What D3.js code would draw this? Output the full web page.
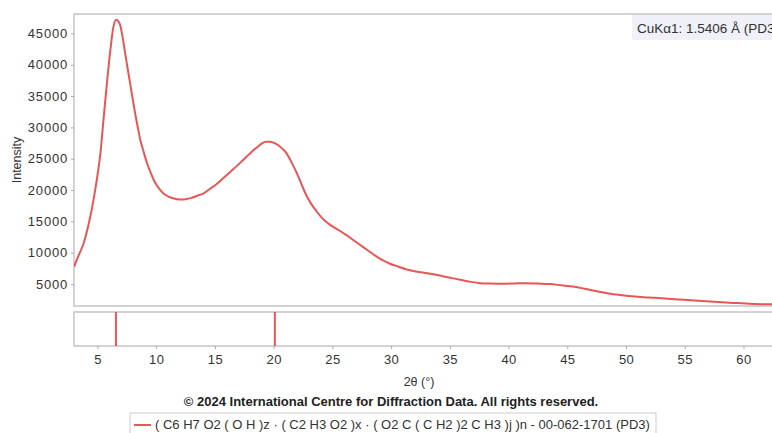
<!DOCTYPE html>
<html><head><meta charset="utf-8">
<script src="https://cdn.jsdelivr.net/npm/d3@7"></script>
<style>
body{margin:0;background:#fff;overflow:hidden}
svg{display:block;font-family:"Liberation Sans",Arial,sans-serif}
</style></head>
<body><svg id="c" width="772" height="433"></svg>
<script>
const twoTheta = [3.0,3.4,3.8,4.2,4.5,4.8,5.0,5.25,5.5,5.8,6.1,6.35,6.6,6.75,6.95,7.15,7.35,7.55,7.8,8.0,8.2,8.4,8.65,8.9,9.2,9.5,9.9,10.3,10.6,11.0,11.5,12.0,12.5,13.0,13.5,14.0,14.5,15.2,15.7,16.3,16.9,17.4,17.9,18.3,18.7,19.0,19.4,19.7,20.0,20.4,20.8,21.1,21.5,22.0,22.4,22.8,23.2,23.7,24.2,24.6,25.1,25.6,26.2,26.8,27.4,28.0,28.8,29.4,29.9,30.6,31.3,32.0,32.8,33.6,34.4,35.2,36.0,36.8,37.6,38.5,39.5,40.5,41.5,42.5,43.5,44.5,45.5,46.5,47.5,48.5,49.5,50.5,51.5,52.5,53.5,54.5,55.5,56.5,57.5,58.5,59.5,60.5,61.5,62.4,63.5];
const intensity = [7760,9600,11400,14200,16800,20000,22400,25900,31000,37000,42400,46000,47200,47000,46200,44300,41900,39600,36800,34500,32300,30300,28000,26300,24400,22900,21200,20100,19500,19000,18650,18500,18550,18750,19100,19450,20100,21050,21900,22900,23900,24800,25700,26400,27000,27450,27700,27700,27550,27150,26500,25850,24500,22600,20800,19100,17800,16500,15400,14750,14100,13550,12800,12000,11200,10400,9350,8700,8250,7800,7350,7050,6800,6550,6250,5950,5650,5350,5150,5080,5050,5100,5150,5080,5000,4800,4600,4250,3850,3500,3250,3050,2900,2800,2650,2530,2430,2300,2170,2060,1960,1860,1790,1760,1740];
const stickPositions = [6.57, 20.1];
const yTicks = [5000,10000,15000,20000,25000,30000,35000,40000,45000];
const xTicks = [5,10,15,20,25,30,35,40,45,50,55,60];
const xDomain = [3, 63.5];
const yDomain = [1500, 48100];
const xTitle = "2θ (°)";
const yTitle = "Intensity";
const wavelengthLabel = "CuKα1: 1.5406 Å (PD3)";
const copyright = "© 2024 International Centre for Diffraction Data. All rights reserved.";
const legendLabel = "( C6 H7 O2 ( O H )z · ( C2 H3 O2 )x · ( O2 C ( C H2 )2 C H3 )j )n - 00-062-1701 (PD3)";

const RED = "#e85656", FRAME = "#c4c4c4", TXT = "#333";
const svg = d3.select("#c");
const L = 74, R = 74 + 60.5*11.745, T = 14, B = 306, ST = 312, SB = 346;
const x = d3.scaleLinear().domain(xDomain).range([L, R]);
const y = d3.scaleLinear().domain(yDomain).range([B, T]);

// frames
svg.append("rect").attr("x",L).attr("y",T).attr("width",R-L).attr("height",B-T)
  .attr("fill","none").attr("stroke",FRAME).attr("stroke-width",1.5);
svg.append("rect").attr("x",L).attr("y",ST).attr("width",R-L).attr("height",SB-ST)
  .attr("fill","none").attr("stroke",FRAME).attr("stroke-width",1.5);

// y axis
const yAx = svg.append("g").attr("transform",`translate(${L},0)`)
  .call(d3.axisLeft(y).tickValues(yTicks).tickSize(3).tickPadding(3).tickFormat(d3.format("d")));
yAx.select(".domain").remove();
yAx.selectAll("line").attr("stroke","#aaa");
yAx.selectAll("text").attr("fill",TXT).style("font-size","13px").style("letter-spacing","0.8px")
  .style("font-family","Liberation Sans, Arial");

// x axis under stick panel
const xAx = svg.append("g").attr("transform",`translate(0,${SB})`)
  .call(d3.axisBottom(x).tickValues(xTicks).tickSize(3).tickPadding(6));
xAx.select(".domain").remove();
xAx.selectAll("line").attr("stroke","#aaa");
xAx.selectAll("text").attr("fill",TXT).style("font-size","13px").style("letter-spacing","0.4px")
  .style("font-family","Liberation Sans, Arial");

// curve
svg.append("clipPath").attr("id","cp").append("rect")
  .attr("x",L).attr("y",T).attr("width",R-L).attr("height",B-T);
const data = twoTheta.map((t,i)=>[t,intensity[i]]);
svg.append("path").datum(data).attr("clip-path","url(#cp)")
  .attr("d", d3.line().x(d=>x(d[0])).y(d=>y(d[1])).curve(d3.curveMonotoneX))
  .attr("fill","none").attr("stroke",RED).attr("stroke-width",2);

// sticks
svg.selectAll("line.stick").data(stickPositions).enter().append("line")
  .attr("class","stick").attr("x1",d=>x(d)).attr("x2",d=>x(d))
  .attr("y1",ST).attr("y2",SB).attr("stroke",RED).attr("stroke-width",2);

// wavelength box
svg.append("rect").attr("x",632).attr("y",T+1).attr("width",160).attr("height",25).attr("fill","#eff0f8");
svg.append("text").attr("x",637).attr("y",33).attr("fill",TXT).style("font-size","13.5px").text(wavelengthLabel);

// titles
svg.append("text").attr("transform","translate(21,160) rotate(-90)").attr("text-anchor","middle")
  .attr("fill",TXT).style("font-size","12.5px").text(yTitle);
svg.append("text").attr("x",419).attr("y",386).attr("text-anchor","middle")
  .attr("fill",TXT).style("font-size","12.5px").text(xTitle);
svg.append("text").attr("x",391).attr("y",406).attr("text-anchor","middle")
  .attr("fill","#222").style("font-size","13px").style("font-weight","bold").text(copyright);

// legend
const lg = svg.append("g");
lg.append("rect").attr("x",130).attr("y",413).attr("width",526).attr("height",22)
  .attr("fill","#fff").attr("stroke","#ccc");
lg.append("line").attr("x1",134).attr("x2",151).attr("y1",425).attr("y2",425).attr("stroke",RED).attr("stroke-width",2);
lg.append("text").attr("x",155).attr("y",429).attr("fill",TXT).style("font-size","13px").text(legendLabel);
</script></body></html>
